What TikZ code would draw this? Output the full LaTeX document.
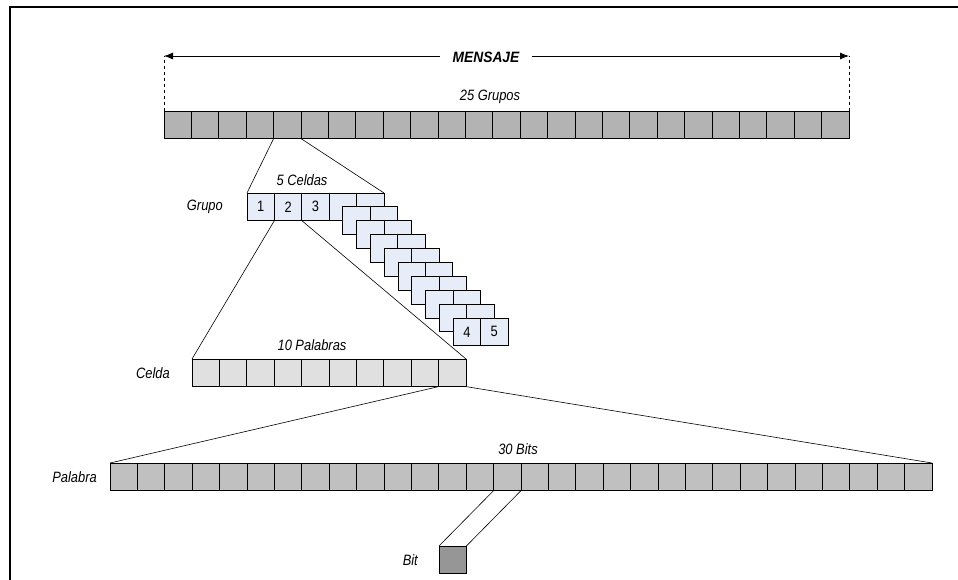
\documentclass[tikz,border=0pt]{standalone}
\usepackage{fontspec}
\setmainfont{Liberation Sans}
\newfontfamily\etiq[FakeStretch=0.86]{Liberation Sans}
\newfontfamily\etiqancha[FakeStretch=0.92]{Liberation Sans}
\usetikzlibrary{positioning,arrows.meta}

\definecolor{grisgrupo}{HTML}{B3B3B3}
\definecolor{azulcelda}{HTML}{E6ECF8}
\definecolor{griscelda}{HTML}{E0E0E0}
\definecolor{grispalabra}{HTML}{C0C0C0}
\definecolor{grisbit}{HTML}{969696}

\tikzset{
  cuadro/.style={draw, line width=0.8pt, minimum width=27.4pt, minimum height=27.6pt,
    inner sep=0pt, outer sep=0pt, anchor=north west, font=\etiq\upshape\fontsize{15}{16}\selectfont},
  etiqueta/.style={font=\etiq\itshape\fontsize{15}{16}\selectfont, inner sep=0pt},
  zoom/.style={line width=0.6pt},
}

\begin{document}
\begin{tikzpicture}[x=1pt,y=-1pt]
\useasboundingbox (0,0) rectangle (958,580);

% marco
\draw[line width=2pt] (10,580) -- (10,7) -- (958,7);

% mensaje: 25 grupos
\node[cuadro, fill=grisgrupo] (m1) at (164,111) {};
\foreach \i [count=\j from 2] in {1,...,24}
  \node[cuadro, fill=grisgrupo, right=0pt of m\i] (m\j) {};
\node[etiqueta] (grupos) at (490,97) {25 Grupos};

\draw[dashed, line width=0.6pt] (m1.north west) -- ++(0,-55) coordinate (izq);
\draw[dashed, line width=0.6pt] (m25.north east) -- ++(0,-55) coordinate (der);
\draw[{Latex[length=9pt,width=7pt]}-{Latex[length=9pt,width=7pt]}, line width=0.8pt] (izq) -- (der);
\node[etiqueta, fill=white, inner xsep=13pt, inner ysep=2pt,
  font=\etiqancha\bfseries\itshape\fontsize{15}{16}\selectfont] (mensaje) at (486,57.5) {MENSAJE};

% grupo: 5 celdas
\node[cuadro, fill=azulcelda] (g1) at (247,193) {1};
\node[cuadro, fill=azulcelda, right=0pt of g1] (g2) {2};
\node[cuadro, fill=azulcelda, right=0pt of g2] (g3) {3};
\node[cuadro, fill=azulcelda, right=0pt of g3] (g4) {};
\node[cuadro, fill=azulcelda, right=0pt of g4] (g5) {};
\node[etiqueta] (celdas) at (302,180) {5 Celdas};
\node[etiqueta, left=24pt of g1] (grupo) {Grupo};

\draw[zoom] (m5.south west) -- (g1.north west);
\draw[zoom] (m5.south east) -- (g5.north east);

% celda: 10 palabras
\node[cuadro, fill=griscelda] (c1) at (192,359) {};
\foreach \i [count=\j from 2] in {1,...,9}
  \node[cuadro, fill=griscelda, right=0pt of c\i] (c\j) {};
\node[etiqueta] (palabras) at (312,345) {10 Palabras};
\node[etiqueta, left=22pt of c1] (celda) {Celda};

\draw[zoom] (g2.south west) -- (c1.north west);
\draw[zoom] (g2.south east) -- (c10.north east);

% celdas apiladas
\foreach \k in {1,...,9} {
  \node[cuadro, fill=azulcelda] (capa\k-1) at (329+13.8*\k,193+13.9*\k) {};
  \node[cuadro, fill=azulcelda, right=0pt of capa\k-1] (capa\k-2) {};
}
\node[cuadro, anchor=center, draw=none] at (capa9-1) {4};
\node[cuadro, anchor=center, draw=none] at (capa9-2) {5};

% palabra: 30 bits
\node[cuadro, fill=grispalabra] (p1) at (110,463) {};
\foreach \i [count=\j from 2] in {1,...,29}
  \node[cuadro, fill=grispalabra, right=0pt of p\i] (p\j) {};
\node[etiqueta] (bits) at (518,449) {30 Bits};
\node[etiqueta, left=13pt of p1] (palabra) {Palabra};

\draw[zoom] (c10.south west) -- (p1.north west);
\draw[zoom] (c10.south east) -- (p30.north east);

% bit
\node[cuadro, fill=grisbit] (bit) at (439,546) {};
\node[etiqueta, left=21pt of bit] (etbit) {Bit};

\draw[zoom] (p15.south west) -- (bit.north west);
\draw[zoom] (p15.south east) -- (bit.north east);
\end{tikzpicture}
\end{document}
